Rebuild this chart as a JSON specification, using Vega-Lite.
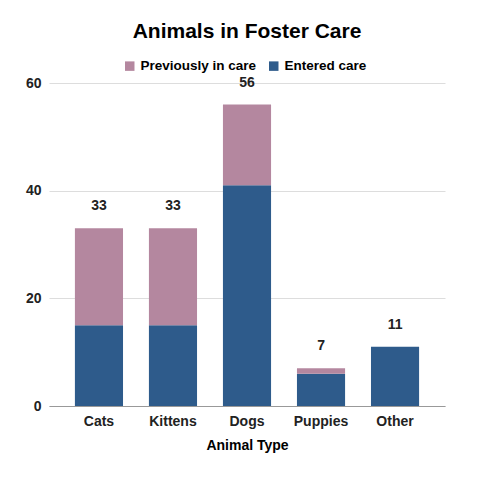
{
  "$schema": "https://vega.github.io/schema/vega-lite/v6.json",
  "autosize": "none",
  "padding": {"left": 49, "top": 83, "right": 35, "bottom": 74},
  "width": 396,
  "height": 323,
  "title": {"text": "Animals in Foster Care", "font": "Liberation Sans", "fontSize": 21, "fontWeight": "bold", "color": "#000000", "anchor": "middle", "offset": 17},
  "data": {"values": [
    {"animal": "Cats", "series": "Entered care", "value": 15},
    {"animal": "Cats", "series": "Previously in care", "value": 18},
    {"animal": "Kittens", "series": "Entered care", "value": 15},
    {"animal": "Kittens", "series": "Previously in care", "value": 18},
    {"animal": "Dogs", "series": "Entered care", "value": 41},
    {"animal": "Dogs", "series": "Previously in care", "value": 15},
    {"animal": "Puppies", "series": "Entered care", "value": 6},
    {"animal": "Puppies", "series": "Previously in care", "value": 1},
    {"animal": "Other", "series": "Entered care", "value": 11},
    {"animal": "Other", "series": "Previously in care", "value": 0}
  ]},
  "encoding": {
    "x": {"field": "animal", "type": "nominal", "sort": ["Cats", "Kittens", "Dogs", "Puppies", "Other"],
      "scale": {"paddingInner": 0.35, "paddingOuter": 0.35},
      "axis": {"title": "Animal Type", "labelAngle": 0, "ticks": false, "domainColor": "#999999", "labelPadding": 8, "titlePadding": 10}}
  },
  "layer": [
    {
      "mark": {"type": "bar"},
      "encoding": {
        "y": {"field": "value", "type": "quantitative", "stack": "zero",
          "scale": {"domain": [0, 60]},
          "axis": {"title": null, "values": [0, 20, 40, 60], "ticks": false, "domain": false, "gridColor": "#dddddd", "labelPadding": 8}},
        "color": {"field": "series", "type": "nominal",
          "scale": {"domain": ["Previously in care", "Entered care"], "range": ["#b4879f", "#2e5b8b"]},
          "legend": {"title": null, "orient": "none", "legendX": 74, "legendY": -24, "direction": "horizontal", "symbolType": "square", "symbolSize": 90, "columnPadding": 10, "labelOffset": 4, "labelFontSize": 13.5}},
        "order": {"field": "series", "sort": "ascending"}
      }
    },
    {
      "mark": {"type": "text", "dy": -22, "baseline": "middle", "fontSize": 14, "fontWeight": "bold", "color": "#222222", "font": "Liberation Sans"},
      "encoding": {
        "y": {"aggregate": "sum", "field": "value", "type": "quantitative"},
        "text": {"aggregate": "sum", "field": "value", "type": "quantitative"}
      }
    }
  ],
  "config": {
    "view": {"stroke": null},
    "font": "Liberation Sans",
    "axis": {"labelFont": "Liberation Sans", "labelFontSize": 14, "labelFontWeight": "bold", "labelColor": "#222222", "titleFont": "Liberation Sans", "titleFontSize": 14, "titleFontWeight": "bold", "titleColor": "#000000"},
    "legend": {"labelFont": "Liberation Sans", "labelFontWeight": "bold", "labelColor": "#000000"}
  }
}
